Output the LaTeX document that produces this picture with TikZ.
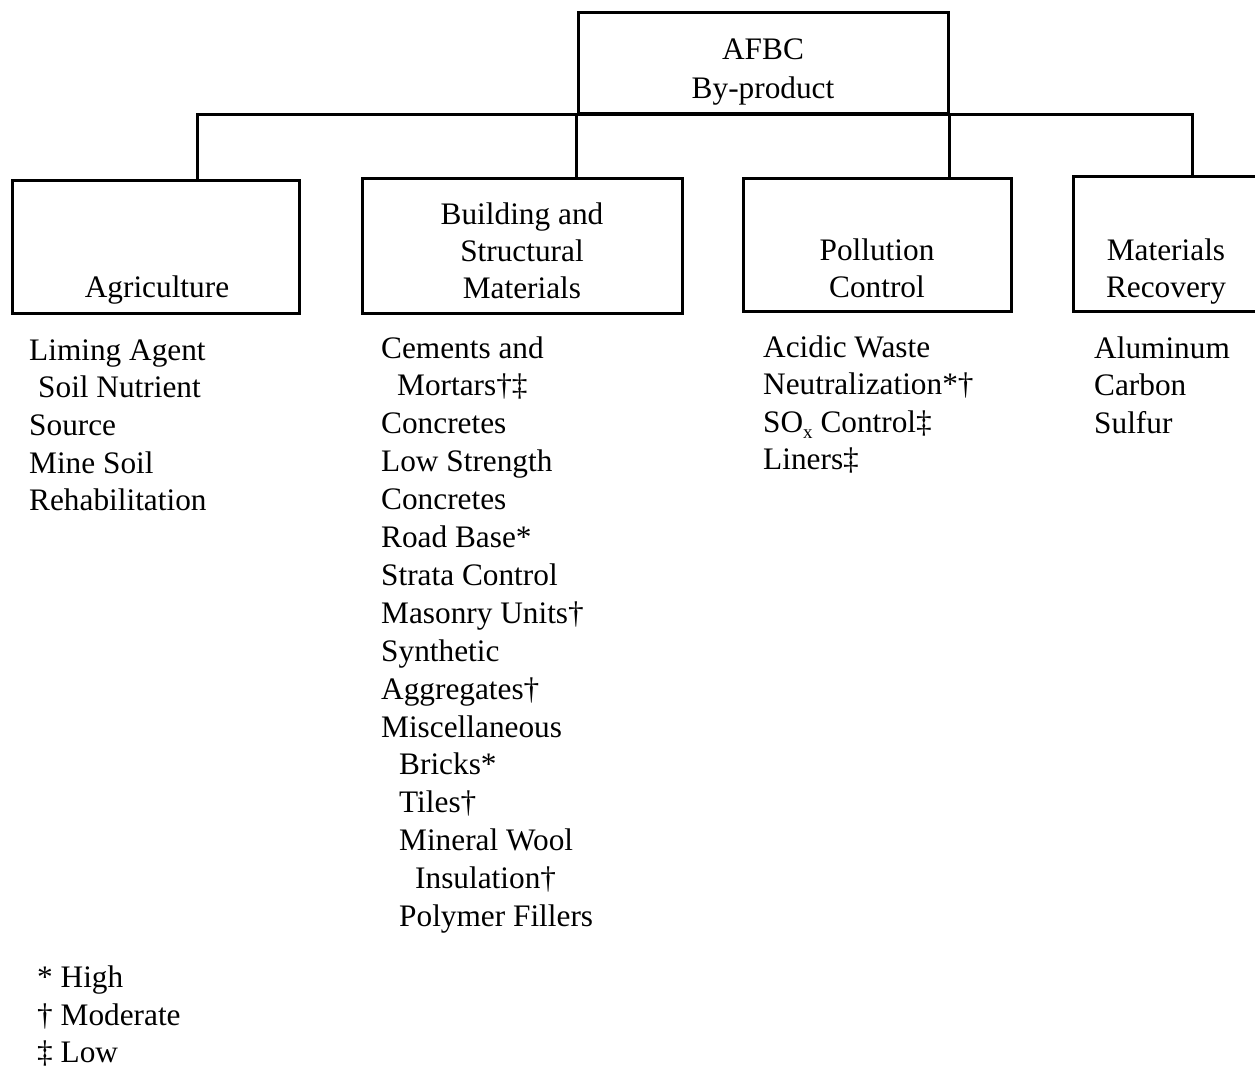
\documentclass[tikz,border=0pt]{standalone}
\usepackage{fontspec}
\setmainfont{Liberation Serif}
\begin{document}
\begin{tikzpicture}[x=1pt,y=-1pt,
  box/.style={draw, line width=3pt, inner sep=0pt, rectangle},
  lbl/.style={anchor=base, inner sep=0pt, font=\fontsize{31.3}{37}\selectfont},
  item/.style={anchor=base west, inner sep=0pt, font=\fontsize{31.3}{37}\selectfont},
  conn/.style={line width=3pt}]
\clip (0,0) rectangle (1255,1070);
\useasboundingbox (0,0) rectangle (1255,1070);
\fill[white] (0,0) rectangle (1255,1070);
% boxes
\node[box, minimum width=370pt, minimum height=101pt] (top) at (763,63.5) {};
\node[box, minimum width=287pt, minimum height=133pt] (agri) at (155.5,246.5) {};
\node[box, minimum width=320pt, minimum height=135pt] (build) at (522,245.5) {};
\node[box, minimum width=268pt, minimum height=133pt] (poll) at (877,244.5) {};
\node[box, minimum width=189pt, minimum height=135pt] (mr) at (1167.5,243.5) {};
% box labels
\node[lbl] (t1) at (763,60) {AFBC};
\node[lbl] (t2) at (763,99) {By-product};
\node[lbl] (a1) at (157,297) {Agriculture};
\node[lbl] (b1) at (522,224) {Building and};
\node[lbl] (b2) at (522,261) {Structural};
\node[lbl] (b3) at (522,298) {Materials};
\node[lbl] (p1) at (877,260) {Pollution};
\node[lbl] (p2) at (877,297) {Control};
\node[lbl] (m1) at (1166,260) {Materials};
\node[lbl] (m2) at (1166,297) {Recovery};
% connectors
\coordinate (jl) at (197,115);
\coordinate (jr) at (1192,115);
\draw[conn] (jl |- agri.north) -- (jl) -- (jr) -- (jr |- mr.north);
\draw[conn] (top.south west) -- (top.south west |- build.north);
\draw[conn] (top.south east) -- (top.south east |- poll.north);
% agriculture list
\node[item] (ai1) at (29,360) {Liming Agent};
\node[item] (ai2) at (38,397.7) {Soil Nutrient};
\node[item] (ai3) at (29,435.4) {Source};
\node[item] (ai4) at (29,473.1) {Mine Soil};
\node[item] (ai5) at (29,510.8) {Rehabilitation};
% building list
\node[item] (bi1) at (381,358) {Cements and};
\node[item] (bi2) at (397,395.9) {Mortars†‡};
\node[item] (bi3) at (381,433.8) {Concretes};
\node[item] (bi4) at (381,471.7) {Low Strength};
\node[item] (bi5) at (381,509.6) {Concretes};
\node[item] (bi6) at (381,547.5) {Road Base*};
\node[item] (bi7) at (381,585.4) {Strata Control};
\node[item] (bi8) at (381,623.3) {Masonry Units†};
\node[item] (bi9) at (381,661.2) {Synthetic};
\node[item] (bi10) at (381,699.1) {Aggregates†};
\node[item] (bi11) at (381,737) {Miscellaneous};
\node[item] (bi12) at (399,774.9) {Bricks*};
\node[item] (bi13) at (399,812.8) {Tiles†};
\node[item] (bi14) at (399,850.7) {Mineral Wool};
\node[item] (bi15) at (415,888.6) {Insulation†};
\node[item] (bi16) at (399,926.5) {Polymer Fillers};
% pollution list
\node[item] (pi1) at (763,357) {Acidic Waste};
\node[item] (pi2) at (763,394.5) {Neutralization*†};
\node[item] (pi3) at (763,432) {SO\raisebox{-0.22em}{\fontsize{19}{19}\selectfont x} Control‡};
\node[item] (pi4) at (763,469.5) {Liners‡};
% materials list
\node[item] (mi1) at (1094,358) {Aluminum};
\node[item] (mi2) at (1094,395.7) {Carbon};
\node[item] (mi3) at (1094,433.4) {Sulfur};
% legend
\node[item] (l1) at (37,987) {* High};
\node[item] (l2) at (37,1025) {† Moderate};
\node[item] (l3) at (37,1062) {‡ Low};
\end{tikzpicture}
\end{document}
